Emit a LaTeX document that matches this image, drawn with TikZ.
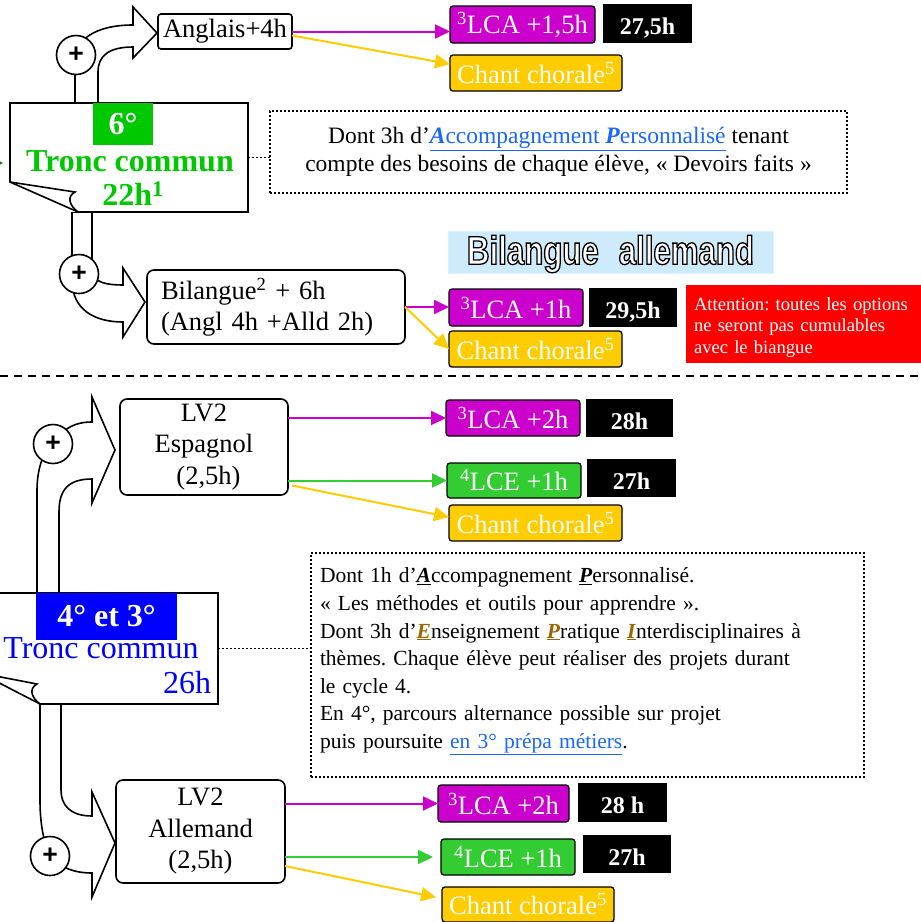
\documentclass[tikz,border=0pt]{standalone}
\usepackage{fontspec}
\setmainfont{Liberation Serif}
\newfontfamily\plusfont{Liberation Sans}
\newfontfamily\bannerfont[FakeStretch=0.78]{Liberation Sans}
\usetikzlibrary{arrows.meta,calc}
\definecolor{lcamag}{HTML}{CC00CC}
\definecolor{lcegreen}{HTML}{33CC33}
\definecolor{chantyel}{HTML}{FFCC00}
\definecolor{sixgreen}{HTML}{00C800}
\definecolor{cycblue}{HTML}{0000FF}
\definecolor{linkblue}{HTML}{1A66FF}
\definecolor{epigold}{HTML}{996600}
\definecolor{bannerblue}{HTML}{CDEBFB}
\newcommand\fmid{\fontsize{26.5}{31.5}\selectfont}
\newcommand\fsum{\fontsize{24}{28}\selectfont}
\newcommand\fnote{\fontsize{21.5}{27.6}\selectfont}
\newcommand\fnotetop{\fontsize{23.5}{28}\selectfont}
\newcommand\fwarn{\fontsize{18.6}{21.5}\selectfont}
\newcommand\fhead{\fontsize{32}{33}\selectfont}
\newcommand\fbanner{\fontsize{40}{44}\selectfont}
\newcommand\initl[1]{\underline{\textbf{\textit{#1}}}}
\newcommand\outlined[1]{\special{pdf:literal 2 Tr 1.3 w 0 G}#1\special{pdf:literal 0 Tr}}

\begin{document}
\frenchspacing
\begin{tikzpicture}[x=1pt, y=-1pt,
  every node/.style={inner sep=0pt, outer sep=0pt},
  boxline/.style={draw, line width=1.6pt},
  optbox/.style={boxline, fill=white, rounded corners=7pt, font=\fmid},
  tag/.style={draw, line width=1.3pt, rounded corners=3pt, text=white, font=\fmid},
  total/.style={fill=black, text=white, font=\fsum\bfseries, text height=22pt, text depth=0pt},
  plusdot/.style={circle, boxline, fill=white, minimum size=39pt, font=\plusfont\bfseries\fmid},
  arrowshape/.style={boxline, fill=white, line join=miter},
  note/.style={draw, line width=1.6pt, dash pattern=on 1.6pt off 2.4pt},
  link/.style={line width=2pt, -{Triangle[length=15pt,width=14pt]}},
  bannertext/.style={font=\bannerfont\bfseries\fbanner},
]
\useasboundingbox (0,0) rectangle (921,922);

\draw[arrowshape] (75,103) -- (75,60) .. controls (75,40) and (95,25) .. (133,25) -- (133,7) -- (157,33) -- (133,58) -- (133,47) .. controls (110,47) and (98,55) .. (98,72) -- (98,103) -- cycle;
\draw[arrowshape] (72,212) -- (72,280) .. controls (72,310) and (95,322) .. (123,322) -- (123,337) -- (145,302) -- (123,268) -- (123,285) .. controls (108,285) and (92,283) .. (92,270) -- (92,212) -- cycle;
\node[plusdot] (plusA) at (76,55) {+};
\node[plusdot] (plusB) at (79,274) {+};

\node[fill=white, minimum width=238pt, minimum height=109pt] (tronc6) at (129,157.5) {};
\draw[boxline] (tronc6.north west) -- (tronc6.north east) -- (tronc6.south east) -- ($(tronc6.south west)+(68,0)$) -- ($(tronc6.south west)+(0,-30)$) -- cycle;
\draw[boxline] ($(tronc6.south west)+(0,-30)$) -- ($(tronc6.south west)+(65,-20)$) .. controls +(-9,5) and +(-8,-6) .. ($(tronc6.south west)+(68,0)$);
\node[fill=sixgreen, text=white, font=\fhead\bfseries, minimum width=60pt, minimum height=42pt] (lab6) at (123,124) {6°};
\node[text=sixgreen, font=\fhead\bfseries] (name6) at (130,161) {Tronc commun};
\node[text=sixgreen, font=\fhead\bfseries] (hours6) at (133,194) {22h\textsuperscript{1}};
\coordinate (feed) at (-40,163);

\node[optbox, rounded corners=3pt, minimum width=134pt, minimum height=35pt] (angl) at (225,31.5) {Anglais+4h};
\node[tag, fill=lcamag, minimum width=145pt, minimum height=37pt] (lcaA) at (522.5,24.5) {\textsuperscript{3}LCA +1,5h};
\node[total, minimum width=89pt, minimum height=39pt] (totA) at (647.5,23.5) {27,5h};
\node[tag, fill=chantyel, minimum width=172pt, minimum height=36pt] (chantA) at (536,73) {Chant chorale\textsuperscript{5}};
\node[note, minimum width=577pt, minimum height=82pt, align=center, font=\fnotetop] (note6) at (558.5,152) {Dont 3h d’\textcolor{linkblue}{\underline{\textbf{\textit{A}}ccompagnement \textbf{\textit{P}}ersonnalisé}} tenant\\compte des besoins de chaque élève, « Devoirs faits »};

\node[optbox, minimum width=258pt, minimum height=74pt, text width=230pt, align=left] (bil) at (276,307) {Bilangue\textsuperscript{2} + 6h\\(Angl 4h +Alld 2h)};
\node[fill=bannerblue, draw=bannerblue!70!white, minimum width=325pt, minimum height=42pt] (banner) at (610.5,252) {};
\node[bannertext, text=white] (bantext) at (610.5,254) {\outlined{Bilangue\hspace{0.5em}allemand}};
\node[tag, fill=lcamag, minimum width=134pt, minimum height=37pt] (lcaB) at (516,307.5) {\textsuperscript{3}LCA +1h};
\node[total, minimum width=88pt, minimum height=39pt] (totB) at (633,307.5) {29,5h};
\node[tag, fill=chantyel, minimum width=173pt, minimum height=36pt] (chantB) at (535.5,349) {Chant chorale\textsuperscript{5}};
\node[fill=red, text=white, font=\fwarn, minimum width=235pt, minimum height=78pt, text width=219pt, align=left] (warn) at (803.5,324) {\rule{0pt}{19pt}Attention: toutes les options\\ne seront pas cumulables\\avec le biangue};

\draw[link, lcamag] (angl.east) -- (angl.east -| lcaA.west);
\draw[link, chantyel] ([yshift=-4pt]angl.east) -- ([yshift=9pt]chantA.west);
\draw[note] (tronc6.east) -- (tronc6.east -| note6.west);
\draw[link, lcamag] (bil.east) -- (bil.east -| lcaB.west);
\draw[link, chantyel] (bil.east) -- (chantB.west);
\draw[line width=1.6pt, green!50!black, -{Triangle[length=8pt,width=8pt]}] (feed) -- ([xshift=-7pt]feed -| tronc6.west);

\draw[line width=1.6pt, dash pattern=on 8pt off 6pt] (0,376) -- (921,376);

\draw[arrowshape] (37,593) -- (37,490) .. controls (37,462) and (48,445) .. (55,440) .. controls (65,428) and (75,422) .. (92,422) -- (92,397) -- (115,450) -- (92,503) -- (92,479) .. controls (68,479) and (59,490) .. (59,512) -- (59,593) -- cycle;
\draw[arrowshape] (40,704) -- (40,800) .. controls (40,828) and (45,845) .. (50,856) .. controls (60,868) and (75,873) .. (92,873) -- (92,897) -- (115,843) -- (92,792) -- (92,816) .. controls (70,816) and (61,805) .. (61,790) -- (61,704) -- cycle;
\node[plusdot] (plusC) at (53,444) {+};
\node[plusdot] (plusD) at (50,856) {+};

\node[fill=white, minimum width=238pt, minimum height=111pt] (tronc43) at (99,648.5) {};
\draw[boxline] (tronc43.north west) -- (tronc43.north east) -- (tronc43.south east) -- ($(tronc43.south west)+(60,0)$) -- ($(tronc43.south west)+(0,-31)$) -- cycle;
\draw[boxline] ($(tronc43.south west)+(0,-31)$) -- ($(tronc43.south west)+(57,-20)$) .. controls +(-9,5) and +(-8,-6) .. ($(tronc43.south west)+(60,0)$);
\node[fill=cycblue, text=white, font=\fhead\bfseries, minimum width=141pt, minimum height=47pt] (lab43) at (106.5,616.5) {4° et 3°};
\node[text=cycblue, font=\fhead] (name43) at (101,648) {Tronc commun};
\node[text=cycblue, font=\fhead, anchor=east] (hours43) at (211,683) {26h};

\node[optbox, minimum width=168pt, minimum height=96pt, align=center] (esp) at (204,447) {LV2\\Espagnol\\\hspace*{9pt}(2,5h)};
\node[tag, fill=lcamag, minimum width=134pt, minimum height=36pt] (lcaC) at (513,418) {\textsuperscript{3}LCA +2h};
\node[total, minimum width=87pt, minimum height=38pt] (totC) at (629.5,418) {28h};
\node[tag, fill=lcegreen, minimum width=134pt, minimum height=35pt] (lceC) at (514,480.5) {\textsuperscript{4}LCE +1h};
\node[total, minimum width=89pt, minimum height=38pt] (totD) at (631.5,478) {27h};
\node[tag, fill=chantyel, minimum width=173pt, minimum height=36pt] (chantC) at (535.5,523) {Chant chorale\textsuperscript{5}};

\node[note, minimum width=553pt, minimum height=224pt, text width=535pt, align=left, font=\fnote] (note43) at (587.5,665) {Dont 1h d’\initl{A}ccompagnement \initl{P}ersonnalisé.\\« Les méthodes et outils pour apprendre ».\\Dont 3h d’\textcolor{epigold}{\initl{E}}nseignement \textcolor{epigold}{\initl{P}}ratique \textcolor{epigold}{\initl{I}}nterdisciplinaires à\\thèmes. Chaque élève peut réaliser des projets durant\\le cycle 4.\\En 4°, parcours alternance possible sur projet\\puis poursuite \textcolor{linkblue}{\underline{en 3° prépa métiers}}.\\[-14pt]\mbox{}};

\node[optbox, minimum width=169pt, minimum height=103pt, align=center] (allm) at (200.5,831.5) {LV2\\Allemand\\(2,5h)};
\node[tag, fill=lcamag, minimum width=131pt, minimum height=37pt] (lcaD) at (503.5,803.5) {\textsuperscript{3}LCA +2h};
\node[total, minimum width=89pt, minimum height=39pt] (totE) at (622.5,802.5) {28 h};
\node[tag, fill=lcegreen, minimum width=134pt, minimum height=36pt] (lceD) at (508,857) {\textsuperscript{4}LCE +1h};
\node[total, minimum width=88pt, minimum height=38pt] (totF) at (627,854) {27h};
\node[tag, fill=chantyel, minimum width=172pt, minimum height=35pt] (chantD) at (528,904.5) {Chant chorale\textsuperscript{5}};

\draw[link, lcamag] (esp.east |- lcaC.west) -- (lcaC.west);
\draw[link, lcegreen] (esp.east |- lceC.west) -- (lceC.west);
\draw[link, chantyel] ($(esp.east |- lceC.west)+(4,5)$) -- ($(chantC.west)+(0,-6)$);
\draw[note] (tronc43.east) -- (tronc43.east -| note43.west);
\draw[link, lcamag] (allm.east |- lcaD.west) -- (lcaD.west);
\draw[link, lcegreen, shorten >=8pt] (allm.east |- lceD.west) -- (lceD.west);
\draw[link, chantyel, shorten >=6pt] ($(allm.east |- lceD.west)+(0,9)$) -- ($(chantD.west)+(0,-6)$);
\end{tikzpicture}
\end{document}
